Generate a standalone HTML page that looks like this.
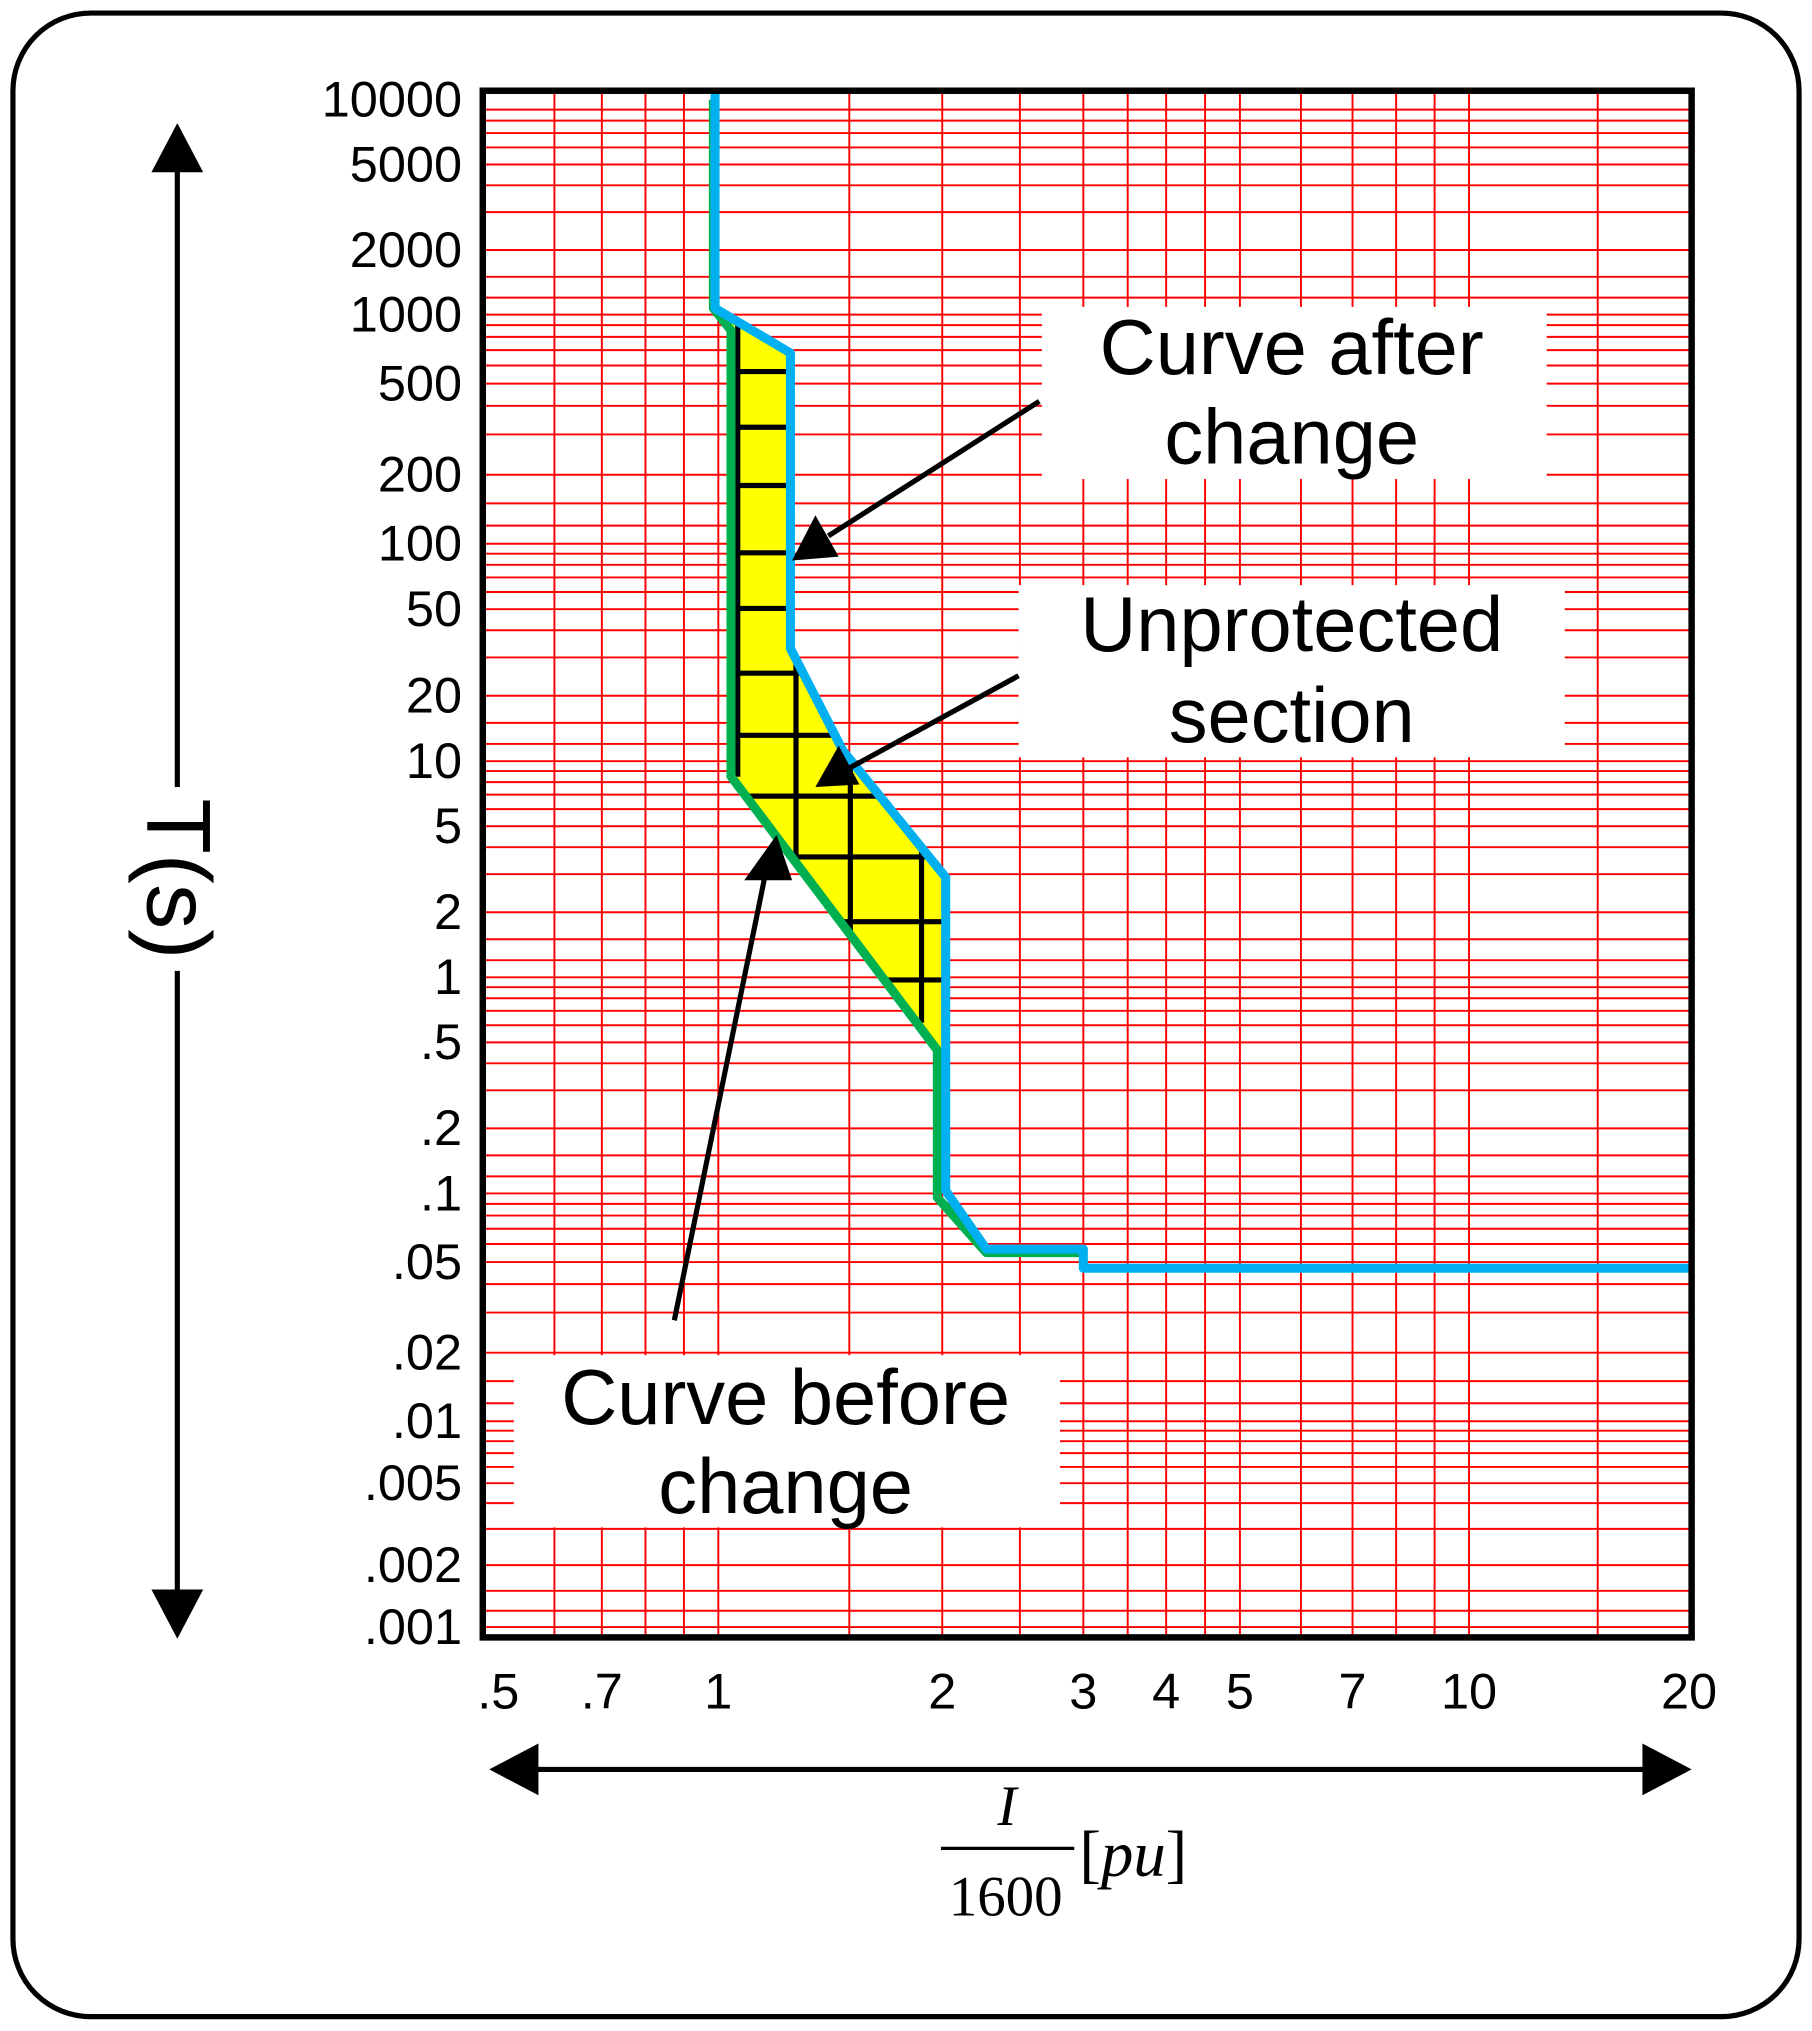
<!DOCTYPE html>
<html><head><meta charset="utf-8"><style>
html,body{margin:0;padding:0;background:#fff;}
svg{display:block;}
text{font-family:"Liberation Sans",sans-serif;fill:#000;}
</style></head><body>
<svg id="chart" width="1812" height="2031" viewBox="0 0 1400 1569" xmlns="http://www.w3.org/2000/svg">
<rect x="10" y="10" width="1380" height="1548" rx="60" ry="60" fill="#fff" stroke="#000" stroke-width="4"/>
<g id="grid"></g>
<g id="boxes">
<rect x="805" y="237" width="390" height="133" fill="#fff"/>
<rect x="787" y="452" width="422" height="133" fill="#fff"/>
<rect x="397" y="1047" width="422" height="133" fill="#fff"/>
</g>
<defs><clipPath id="fillclip"><polygon id="clipPoly"/></clipPath></defs>
<polygon id="fillPoly" fill="#ffff00"/>
<g id="hatch" clip-path="url(#fillclip)" stroke="#000" stroke-width="4"></g>
<polyline id="green" fill="none" stroke="#00b050" stroke-width="7" stroke-linejoin="round"/>
<polyline id="blue" fill="none" stroke="#00b0f0" stroke-width="7" stroke-linejoin="round"/>
<rect x="373" y="70" width="934" height="1195" fill="none" stroke="#000" stroke-width="5"/>
<g id="yticks" font-size="39" text-anchor="end"></g>
<g id="xticks" font-size="39" text-anchor="middle"></g>
<text x="998" y="289" font-size="60" text-anchor="middle">Curve after</text>
<text x="998" y="358" font-size="60" text-anchor="middle">change</text>
<text x="998" y="503" font-size="60" text-anchor="middle">Unprotected</text>
<text x="998" y="573" font-size="60" text-anchor="middle">section</text>
<text x="607" y="1100" font-size="60" text-anchor="middle">Curve before</text>
<text x="607" y="1169" font-size="60" text-anchor="middle">change</text>
<g stroke="#000" stroke-width="4" fill="#000">
<line x1="803" y1="310" x2="640" y2="414"/>
<polygon points="612,433 630,398 648,430" stroke="none"/>
<line x1="787" y1="522" x2="655" y2="594"/>
<polygon points="630,608 648,576 664,606" stroke="none"/>
<line x1="521" y1="1020" x2="592" y2="672"/>
<polygon points="600,645 575,680 612,680" stroke="none"/>
</g>
<g>
<line x1="137" y1="120" x2="137" y2="1240" stroke="#000" stroke-width="4"/>
<polygon points="137,95 117,133 157,133" fill="#000"/>
<polygon points="137,1266 117,1228 157,1228" fill="#000"/>
<rect x="105" y="608" width="66" height="142" fill="#fff"/>
<text transform="translate(114,679) rotate(90)" font-size="70" text-anchor="middle">T(s)</text>
</g>
<g>
<line x1="400" y1="1367" x2="1285" y2="1367" stroke="#000" stroke-width="4"/>
<polygon points="378,1367 416,1347 416,1387" fill="#000"/>
<polygon points="1307,1367 1269,1347 1269,1387" fill="#000"/>
</g>
<g>
<text x="778" y="1410" font-size="44" font-style="italic" text-anchor="middle" style="font-family:'Liberation Serif',serif">I</text>
<line x1="727" y1="1428" x2="830" y2="1428" stroke="#000" stroke-width="2.5"/>
<text x="777" y="1480" font-size="44" text-anchor="middle" style="font-family:'Liberation Serif',serif">1600</text>
<text x="834" y="1449" font-size="50" style="font-family:'Liberation Serif',serif">[<tspan font-style="italic">pu</tspan>]</text>
</g>
</svg>
<script>
const xTickVals=[0.5,0.7,1,2,3,4,5,7,10,20];
const xTickLabels=[".5",".7","1","2","3","4","5","7","10","20"];
const yTickVals=[10000,5000,2000,1000,500,200,100,50,20,10,5,2,1,0.5,0.2,0.1,0.05,0.02,0.01,0.005,0.002,0.001];
const yTickLabels=["10000","5000","2000","1000","500","200","100","50","20","10","5","2","1",".5",".2",".1",".05",".02",".01",".005",".002",".001"];
const xGridVals=[0.6,0.7,0.8,0.9,1,1.5,2,2.5,3,3.5,4,4.5,5,6,7,8,9,10,15];
const yGridMult=[1,1.2,1.5,2,3,4,5,6,7,8,9];
const blueI=[0.99,0.99,1.25,1.25,1.47,2.02,2.02,2.27,3.0,3.0,20];
const blueT=[11000,1070,680,33,11.2,2.9,0.103,0.057,0.057,0.047,0.047];
const greenI=[0.985,0.985,1.04,1.04,1.97,1.97,2.27,2.98];
const greenT=[10000,1070,855,8.5,0.46,0.096,0.055,0.055];
const XA=[0.5,0.7,1,2,3,4,5,7,10,20], XP=[385,465,555,728,837,901,958,1045,1135,1305];
const YA=[10000,1000,100,10,1,0.1,0.01,0.001], YP=[77,243,420,588,755,922,1098,1257];
function interp(v,A,P){const l=Math.log10(v);
 for(let i=0;i<A.length-1;i++){const a=Math.log10(A[i]),b=Math.log10(A[i+1]);
  const lo=Math.min(a,b),hi=Math.max(a,b);
  if((l>=lo&&l<=hi)||(i===0&&((a<b&&l<a)||(a>b&&l>a)))||(i===A.length-2)){return P[i]+(l-a)/(b-a)*(P[i+1]-P[i]);}}
 return P[0];}
const xs=v=>interp(v,XA,XP), ys=v=>interp(v,YA,YP);
const NS="http://www.w3.org/2000/svg";
function mk(t,a,p){const e=document.createElementNS(NS,t);for(const k in a)e.setAttribute(k,a[k]);p.appendChild(e);return e;}
const grid=document.getElementById('grid');
for(const v of xGridVals){const x=xs(v);
 const l=mk('line',{x1:x,x2:x,y1:72,y2:1263,stroke:'#ff0000','stroke-width':1.5},grid);
 
 }
for(let d=-3;d<=3;d++){for(const m of yGridMult){const v=m*Math.pow(10,d);const y=ys(v);
 if(y<72||y>1263)continue;
 const l=mk('line',{x1:375,x2:1305,y1:y,y2:y,stroke:'#ff0000','stroke-width':1.5},grid);
 
 }}
const yt=document.getElementById('yticks');
yTickVals.forEach((v,i)=>{const t=mk('text',{x:357,y:ys(v)+13},yt);t.textContent=yTickLabels[i];
 
 });
const xt=document.getElementById('xticks');
xTickVals.forEach((v,i)=>{const t=mk('text',{x:xs(v),y:1320},xt);t.textContent=xTickLabels[i];
 
 });
const bp=blueI.map((v,i)=>[xs(v),ys(blueT[i])]);
const gp=greenI.map((v,i)=>[xs(v),ys(greenT[i])]);
document.getElementById('blue').setAttribute('points',bp.map(p=>p.join(',')).join(' '));
document.getElementById('green').setAttribute('points',gp.map(p=>p.join(',')).join(' '));
const poly=bp.slice(1,7).concat(gp.slice(1,5).reverse());
const ps=poly.map(p=>p.join(',')).join(' ');
document.getElementById('fillPoly').setAttribute('points',ps);
document.getElementById('clipPoly').setAttribute('points',ps);
const h=document.getElementById('hatch');
[[570,250,600],[615,500,665],[657,580,730],[712,655,790]].forEach(a=>mk('line',{x1:a[0],x2:a[0],y1:a[1],y2:a[2]},h));
[287,330,375,427,470,520,568,615,662,712,757].forEach(y=>mk('line',{x1:560,x2:735,y1:y,y2:y},h));
</script>
</body></html>
